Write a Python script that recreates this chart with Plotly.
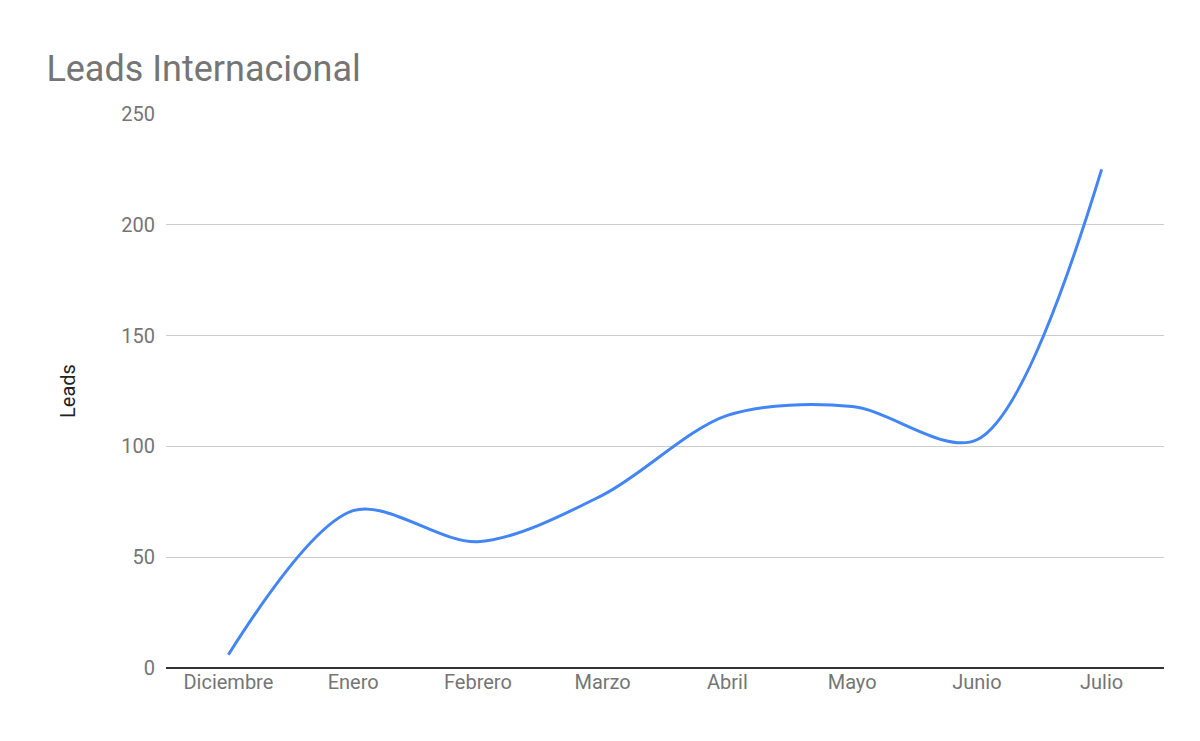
import plotly.graph_objects as go

months = ["Diciembre", "Enero", "Febrero", "Marzo", "Abril", "Mayo", "Junio", "Julio"]
leads = [6, 71, 57, 78, 114, 118, 103, 225]

fig = go.Figure(
    go.Scatter(
        x=months,
        y=leads,
        mode="lines",
        line=dict(color="#4285F4", width=3, shape="spline", smoothing=0.9),
    )
)

fig.update_layout(
    width=1200,
    height=741,
    plot_bgcolor="white",
    paper_bgcolor="white",
    font=dict(family="Roboto", color="#757575", size=20),
    title=dict(text="Leads Internacional", x=0.032, y=0.935, xanchor="left",
               font=dict(size=36, color="#757575")),
    margin=dict(l=158, r=44, t=106, b=81),
    showlegend=False,
    xaxis=dict(showgrid=False, showline=False, ticks="", range=[-0.5, 7.5],
               tickfont=dict(size=20, color="#757575")),
    yaxis=dict(range=[0, 250], dtick=50, gridcolor="#cccccc", zeroline=True,
               zerolinecolor="#333333", zerolinewidth=2, ticksuffix="  ",
               title=dict(text="Leads", font=dict(size=20, color="#222222"), standoff=40),
               tickfont=dict(size=20, color="#757575")),
)

fig.write_html("out.html")
